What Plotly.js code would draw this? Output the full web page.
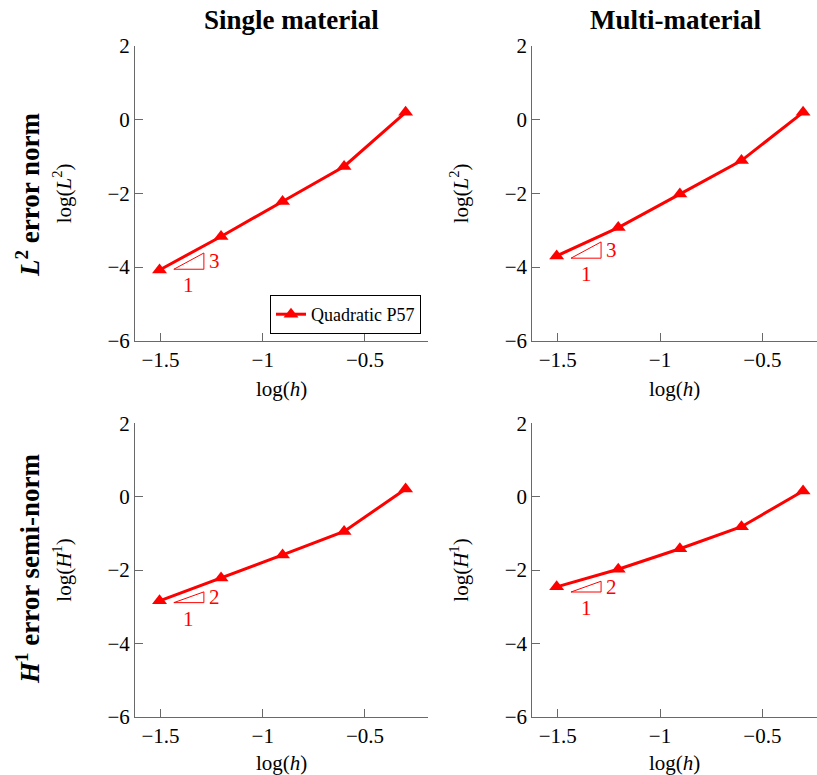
<!DOCTYPE html>
<html>
<head>
<meta charset="utf-8">
<script src="https://cdn.plot.ly/plotly-3.0.1.min.js"></script>
<style>html,body{margin:0;padding:0;background:#fff;}#chart{width:817px;height:775px;}</style>
</head>
<body>
<div id="chart"></div>
<script>
// ---- data ----
const logH = [-1.505, -1.204, -0.903, -0.602, -0.301];
const l2Single = [-4.08, -3.17, -2.22, -1.27, 0.20];
const l2Multi = [-3.70, -2.93, -2.02, -1.11, 0.20];
const h1Single = [-2.84, -2.22, -1.59, -0.95, 0.21];
const h1Multi = [-2.46, -1.98, -1.42, -0.82, 0.155];
const seriesName = 'Quadratic P57';
const colTitles = ['Single material', 'Multi-material'];
const rowTitles = ['<i>L</i><sup>2</sup> error norm', '<i>H</i><sup>1</sup> error semi-norm'];
const yTitles = ['log(<i>L</i><sup>2</sup>)', 'log(<i>H</i><sup>1</sup>)'];
const xTitle = 'log(<i>h</i>)';
const yTicks = [-6, -4, -2, 0, 2];
const xTicks = [-1.5, -1, -0.5];
// slope triangles: base-left corner y, slope, per panel (TL, TR, BL, BR)
const triX0 = -1.435;
const triRun = 0.147;
const triY0 = [-4.06, -3.76, -2.89, -2.60];
const triSlope = [3, 3, 2, 2];

const RED = '#ff0000';
const FONT = 'Liberation Serif, Times New Roman, serif';
const AX = 'rgb(105,105,105)';

const panels = [
  {y: l2Single, xa: 'x', ya: 'y', row: 0, col: 0},
  {y: l2Multi, xa: 'x2', ya: 'y2', row: 0, col: 1},
  {y: h1Single, xa: 'x3', ya: 'y3', row: 1, col: 0},
  {y: h1Multi, xa: 'x4', ya: 'y4', row: 1, col: 1}
];

const W = 817, H = 775;
const colDom = [[135/W, 428.3/W], [532.3/W, 1]];
const colRange = [[-1.625, -0.19], [-1.624, -0.233]];
const rowDom = [[1 - 340.7/H, 1 - 46/H], [1 - 716.7/H, 1 - 423.3/H]];

const traces = panels.map((p, i) => ({
  x: logH, y: p.y, xaxis: p.xa, yaxis: p.ya,
  type: 'scatter', mode: 'lines+markers',
  name: seriesName, showlegend: i === 0,
  line: {color: RED, width: 3},
  marker: {symbol: 'triangle-up', size: 13, color: RED}
}));

const layout = {
  width: W, height: H,
  margin: {l: 0, r: 0, t: 0, b: 0},
  paper_bgcolor: '#fff', plot_bgcolor: '#fff',
  font: {family: FONT, size: 21, color: '#000'},
  showlegend: true,
  legend: {
    x: 421/W, y: 1 - 334/H, xanchor: 'right', yanchor: 'bottom',
    bordercolor: '#000', borderwidth: 1, bgcolor: '#fff',
    font: {family: FONT, size: 18, color: '#000'},
    itemwidth: 30, tracegroupgap: 0
  },
  shapes: [], annotations: []
};

panels.forEach((p, i) => {
  const sx = i === 0 ? '' : String(i + 1);
  layout['xaxis' + sx] = {
    domain: colDom[p.col], range: colRange[p.col], anchor: 'y' + sx,
    showline: true, linecolor: AX, linewidth: 1, mirror: false,
    showgrid: false, zeroline: false,
    ticks: 'inside', ticklen: 8, tickwidth: 1, tickcolor: AX,
    tickvals: xTicks, tickfont: {family: FONT, size: 21, color: '#000'},
    title: {text: xTitle, standoff: 10, font: {family: FONT, size: 21, color: '#000'}},
    fixedrange: true
  };
  layout['yaxis' + sx] = {
    domain: rowDom[p.row], range: [-6, 2], anchor: 'x' + sx,
    showline: true, linecolor: AX, linewidth: 1, mirror: false,
    showgrid: false, zeroline: false,
    ticks: 'inside', ticklen: 8, tickwidth: 1, tickcolor: AX,
    tickvals: yTicks, tickfont: {family: FONT, size: 21, color: '#000'},
    title: {text: yTitles[p.row], standoff: 30, font: {family: FONT, size: 21, color: '#000'}},
    fixedrange: true
  };
  // slope triangle
  const x0 = triX0, x1 = triX0 + triRun;
  const y0 = triY0[i], y1 = triY0[i] + triSlope[i] * triRun;
  layout.shapes.push({
    type: 'path', xref: p.xa, yref: p.ya,
    path: `M ${x0},${y0} L ${x1},${y0} L ${x1},${y1} Z`,
    line: {color: RED, width: 1}, fillcolor: 'rgba(0,0,0,0)'
  });
  layout.annotations.push({
    xref: p.xa, yref: p.ya, x: x1, y: (y0 + y1) / 2, text: String(triSlope[i]),
    showarrow: false, xanchor: 'left', yanchor: 'middle', xshift: 3,
    font: {family: FONT, size: 21, color: RED}
  });
  layout.annotations.push({
    xref: p.xa, yref: p.ya, x: (x0 + x1) / 2, y: y0, text: '1',
    showarrow: false, xanchor: 'center', yanchor: 'top', yshift: -2,
    font: {family: FONT, size: 21, color: RED}
  });
});

// column titles
colTitles.forEach((t, c) => {
  layout.annotations.push({
    xref: 'paper', yref: 'paper', x: c === 0 ? 291/W : 675/W, y: 1 - 20/H,
    text: '<b>' + t + '</b>', showarrow: false, xanchor: 'center', yanchor: 'middle',
    font: {family: FONT, size: 27, color: '#000'}
  });
});
// row titles
rowTitles.forEach((t, r) => {
  layout.annotations.push({
    xref: 'paper', yref: 'paper', x: 28/W, y: r === 0 ? 1 - 195/H : 1 - 569/H,
    text: '<b>' + t + '</b>', showarrow: false, xanchor: 'center', yanchor: 'middle',
    textangle: -90, font: {family: FONT, size: 27, color: '#000'}
  });
});

Plotly.newPlot('chart', traces, layout, {displayModeBar: false, staticPlot: true});
</script>
</body>
</html>
